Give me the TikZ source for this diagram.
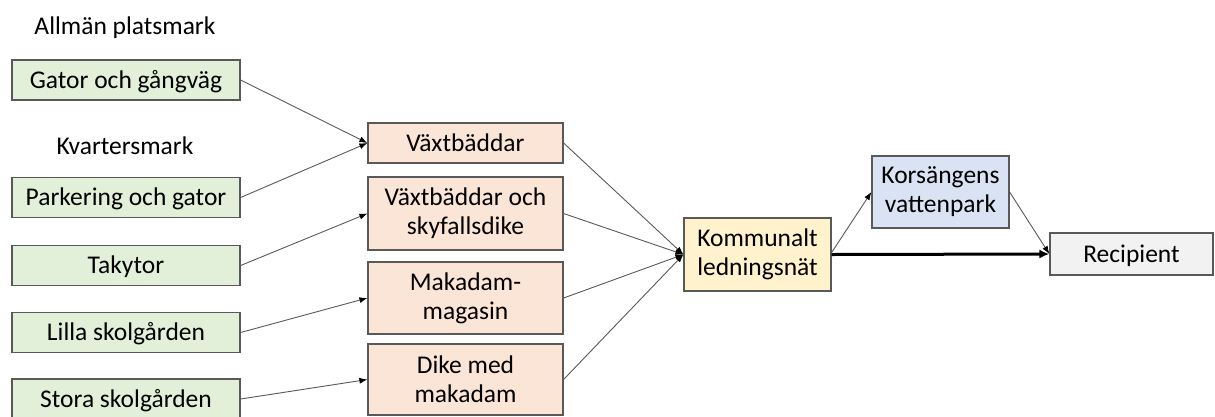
\documentclass[tikz,border=0pt]{standalone}
\usepackage{fontspec}
\setmainfont{Carlito}
\usetikzlibrary{arrows.meta}
\definecolor{areagreen}{HTML}{E2F0D9}
\definecolor{measurepink}{HTML}{FBE5D6}
\definecolor{netyellow}{HTML}{FFF2CC}
\definecolor{parkblue}{HTML}{DAE3F3}
\definecolor{recipgray}{HTML}{F2F2F2}
\definecolor{edgegray}{HTML}{595959}
\begin{document}
\begin{tikzpicture}[x=1pt,y=-1pt,
  box/.style={rectangle,draw=edgegray,line width=1.2pt,inner sep=0pt,align=center,
    font=\fontsize{25.5}{29}\selectfont},
  oneline/.style={text height=22pt,text depth=5.6pt},
  areabox/.style={box,oneline,fill=areagreen,minimum width=228pt,minimum height=40pt},
  measurebox/.style={box,fill=measurepink,minimum width=195pt},
  flow/.style={draw=edgegray,line width=0.9pt,-{Latex[length=8pt,width=6pt,black]}},
  heading/.style={font=\fontsize{25.5}{29}\selectfont}]
\useasboundingbox (0,0) rectangle (1215,416);
% source areas
\node[heading] (allman) at (125,28) {Allmän platsmark};
\node[heading] (kvarter) at (125,146) {Kvartersmark};
\node[areabox] (gator) at (126,80) {Gator och gångväg};
\node[areabox] (parkering) at (126,197.5) {Parkering och gator};
\node[areabox] (takytor) at (126,265.5) {Takytor};
\node[areabox] (lilla) at (126,332.5) {Lilla skolgården};
\node[areabox] (stora) at (126,399) {Stora skolgården};
% measures
\node[measurebox,oneline,minimum height=40pt] (vaxt) at (465.5,143) {Växtbäddar};
\node[measurebox,minimum height=73pt] (vaxtsky) at (465.5,213.5) {Växtbäddar och\\skyfallsdike};
\node[measurebox,minimum height=72pt] (makadam) at (465.5,298) {Makadam-\\magasin};
\node[measurebox,minimum height=71pt] (dike) at (465.5,379.5) {Dike med\\makadam};
% network and recipient
\node[box,fill=netyellow,minimum width=147pt,minimum height=73pt] (kommunalt) at (757.5,254.5) {Kommunalt\\ledningsnät};
\node[box,fill=parkblue,minimum width=137pt,minimum height=72pt] (korsang) at (940.5,192) {Korsängens\\vattenpark};
\node[box,oneline,fill=recipgray,minimum width=163pt,minimum height=42pt] (recipient) at (1131.5,254) {Recipient};
% flows
\draw[flow] (gator.east) -- (vaxt.west);
\draw[flow] (parkering.east) -- (vaxt.west);
\draw[flow] (takytor.east) -- (vaxtsky.west);
\draw[flow] (lilla.east) -- (makadam.west);
\draw[flow] (stora.east) -- (dike.west);
\foreach \m in {vaxt,vaxtsky,makadam,dike}
  \draw[flow] (\m.east) -- (kommunalt.west);
\draw[flow] ([yshift=2pt]kommunalt.east) -- (korsang.west);
\draw[flow] (korsang.east) -- (recipient.west);
\draw[line width=3pt,-{Latex[length=10pt,width=9pt]}] (kommunalt.east) -- (recipient.west);
\end{tikzpicture}
\end{document}
